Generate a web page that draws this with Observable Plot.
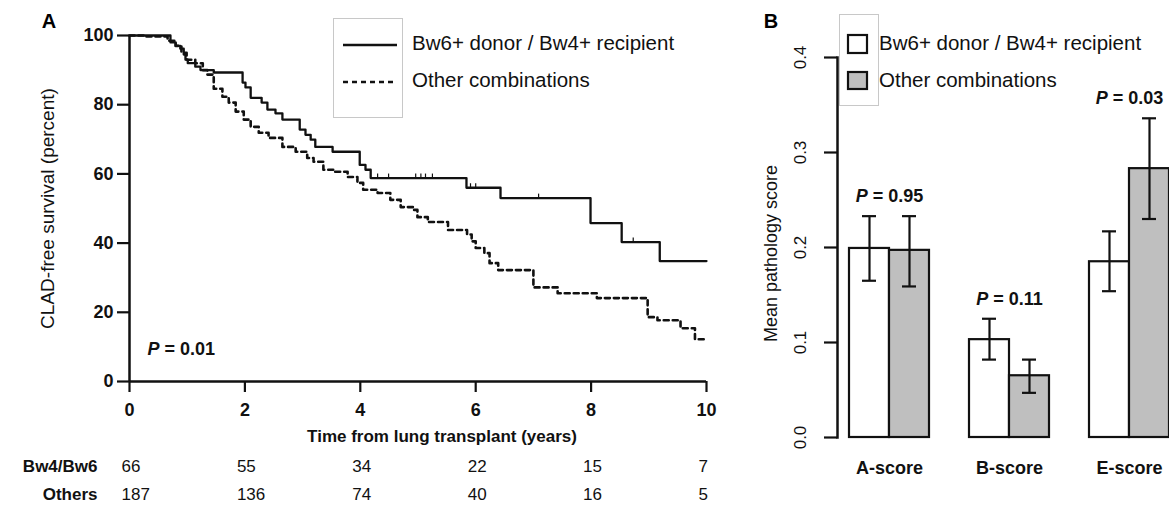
<!DOCTYPE html>
<html>
<head>
<meta charset="utf-8">
<script src="https://cdn.jsdelivr.net/npm/d3@7"></script>
<script src="https://cdn.jsdelivr.net/npm/@observablehq/plot@0.6"></script>
<style>
  html, body { margin: 0; padding: 0; background: #fff; }
  #wrap { position: relative; width: 1169px; height: 512px; overflow: hidden; font-family: "Liberation Sans", Arial, sans-serif; color: #000; }
  #panelA { position: absolute; left: 0; top: 0; }
  #panelB { position: absolute; left: 750px; top: 0; }
  #overlay { position: absolute; left: 0; top: 0; pointer-events: none; }
</style>
</head>
<body>
<div id="wrap">
  <div id="panelA"></div>
  <div id="panelB"></div>
  <svg id="overlay" width="1169" height="512"></svg>
</div>
<script>
// ---------- Panel A data (Kaplan-Meier) ----------
const groupNames = ["Bw6+ donor / Bw4+ recipient", "Other combinations"];
const xTicks = [0, 2, 4, 6, 8, 10];
const yTicks = [0, 20, 40, 60, 80, 100];

const solidTime = [0, 0.71, 0.80, 0.88, 0.94, 0.97, 1.01, 1.14, 1.23, 1.46, 1.96, 2.01, 2.10, 2.29, 2.39, 2.53, 2.65, 2.95, 3.05, 3.14, 3.22, 3.52, 3.99, 4.09, 4.18, 5.84, 6.43, 7.99, 8.53, 9.19, 10];
const solidSurv = [100, 98.0, 97.0, 96.2, 94.5, 93.0, 92.0, 91.0, 90.0, 89.3, 86.4, 85.0, 82.0, 80.6, 78.6, 77.5, 75.7, 72.8, 71.3, 69.9, 67.8, 66.4, 62.6, 61.2, 58.8, 56.0, 53.0, 45.8, 40.3, 34.8, 34.8];

const dashTime = [0, 0.28, 0.66, 0.80, 0.90, 0.99, 1.14, 1.27, 1.35, 1.46, 1.61, 1.72, 1.84, 1.98, 2.10, 2.24, 2.41, 2.65, 2.88, 3.08, 3.19, 3.36, 3.53, 3.78, 3.95, 4.05, 4.30, 4.52, 4.70, 4.92, 4.99, 5.17, 5.52, 5.85, 5.93, 6.00, 6.15, 6.24, 6.39, 7.00, 7.42, 8.10, 8.98, 9.15, 9.55, 9.80, 10];
const dashSurv = [100, 99.7, 98.5, 97.0, 95.0, 93.0, 92.0, 90.0, 88.7, 84.6, 82.3, 80.6, 78.0, 75.7, 73.6, 71.9, 70.4, 67.8, 66.4, 64.6, 63.5, 61.2, 60.6, 59.1, 57.4, 55.4, 54.5, 52.5, 50.4, 49.6, 47.5, 46.1, 43.8, 42.5, 40.5, 38.6, 37.1, 34.2, 32.2, 27.2, 25.5, 24.1, 18.6, 17.7, 15.4, 12.2, 12.2];

const censorTime = [4.30, 4.49, 4.96, 5.05, 5.13, 5.25, 5.91, 6.00, 7.09, 8.73];
const censorSurv = [58.8, 58.8, 58.8, 58.8, 58.8, 58.8, 56.0, 56.0, 53.0, 40.3];

const riskTimes = [0, 2, 4, 6, 8, 10];
const riskBw = [66, 55, 34, 22, 15, 7];
const riskOthers = [187, 136, 74, 40, 16, 5];
const riskLabels = ["Bw4/Bw6", "Others"];
const pValueA = "0.01";

// ---------- Panel B data (mean pathology score) ----------
const scores = ["A-score", "B-score", "E-score"];
const meanBw = [0.199, 0.103, 0.185];
const lowBw = [0.165, 0.082, 0.154];
const highBw = [0.233, 0.125, 0.217];
const meanOther = [0.197, 0.065, 0.283];
const lowOther = [0.159, 0.047, 0.230];
const highOther = [0.233, 0.082, 0.336];
const pValuesB = ["0.95", "0.11", "0.03"];
const yTicksB = [0.0, 0.1, 0.2, 0.3, 0.4];

// ---------- build tables ----------
const solidRows = solidTime.map((t, i) => ({t, s: solidSurv[i]}));
const dashRows = dashTime.map((t, i) => ({t, s: dashSurv[i]}));
const censorRows = censorTime.map((t, i) => ({t, s: censorSurv[i]}));
const riskRows1 = riskTimes.map((t, i) => ({t, n: riskBw[i]}));
const riskRows2 = riskTimes.map((t, i) => ({t, n: riskOthers[i]}));

const bwRows = scores.map((score, i) => ({score, mean: meanBw[i], low: lowBw[i], high: highBw[i]}));
const otherRows = scores.map((score, i) => ({score, mean: meanOther[i], low: lowOther[i], high: highOther[i]}));
const pRows = scores.map((score, i) => ({score, p: pValuesB[i], top: Math.max(highBw[i], highOther[i])}));

const FONT = '"Liberation Sans", Arial, sans-serif';
const INK = "#111";

// ---------- Panel A ----------
const plotA = Plot.plot({
  width: 750, height: 512,
  marginLeft: 129, marginRight: 44, marginTop: 35, marginBottom: 131,
  x: {domain: [0, 10]},
  y: {domain: [0, 100]},
  style: {fontFamily: FONT, fontSize: "17px", color: INK, background: "transparent", overflow: "visible"},
  marks: [
    Plot.axisY({ticks: yTicks, tickSize: 12, tickPadding: 4, fontSize: 18, fontWeight: "bold", label: null, strokeWidth: 2.2}),
    Plot.axisX({ticks: xTicks, tickSize: 11, tickPadding: 11, fontSize: 18, fontWeight: "bold", label: null, strokeWidth: 2.2}),
    Plot.ruleX([0], {strokeWidth: 2.5, stroke: INK}),
    Plot.ruleY([0], {strokeWidth: 2.5, stroke: INK}),
    Plot.line(dashRows, {x: "t", y: "s", curve: "step-after", stroke: INK, strokeWidth: 2.6, strokeDasharray: "5,4"}),
    Plot.line(solidRows, {x: "t", y: "s", curve: "step-after", stroke: INK, strokeWidth: 2.3}),
    Plot.ruleX(censorRows, {x: "t", y1: "s", y2: "s", insetTop: -4, stroke: INK, strokeWidth: 1.2}),
    Plot.text([`P = ${pValueA}`], {frameAnchor: "bottom-left", dx: 18, dy: -27, textAnchor: "start", fontSize: 18, fontWeight: "bold"}),
    Plot.text(["CLAD-free survival (percent)"], {frameAnchor: "left", dx: -82, rotate: -90, textAnchor: "middle", lineAnchor: "middle", fontSize: 19}),
    Plot.text(["Time from lung transplant (years)"], {frameAnchor: "bottom", dy: 60, dx: 24, fontSize: 17, fontWeight: "bold"}),
    Plot.text(riskRows1, {x: "t", text: "n", frameAnchor: "bottom", dy: 90, dx: -8, textAnchor: "start", fontSize: 17}),
    Plot.text(riskRows2, {x: "t", text: "n", frameAnchor: "bottom", dy: 118, dx: -8, textAnchor: "start", fontSize: 17}),
    Plot.text([riskLabels[0]], {frameAnchor: "bottom-left", dx: -32, dy: 90, textAnchor: "end", fontSize: 17, fontWeight: "bold"}),
    Plot.text([riskLabels[1]], {frameAnchor: "bottom-left", dx: -32, dy: 118, textAnchor: "end", fontSize: 17, fontWeight: "bold"})
  ]
});
document.getElementById("panelA").appendChild(plotA);

// ---------- Panel B ----------
const plotB = Plot.plot({
  width: 419, height: 512,
  marginLeft: 87, marginRight: 0, marginTop: 57, marginBottom: 75,
  x: {domain: scores, paddingInner: 1 / 3, paddingOuter: 0.05, align: 1, axis: null},
  y: {domain: [0, 0.4], axis: null},
  style: {fontFamily: FONT, fontSize: "17px", color: INK, background: "transparent", overflow: "visible"},
  marks: [
    Plot.axisY({ticks: yTicksB, tickSize: 13, tickFormat: () => "", label: null, strokeWidth: 2.2}),
    Plot.frame({anchor: "left", strokeWidth: 2.5, stroke: INK}),
    Plot.text(yTicksB, {y: d => d, text: d => d.toFixed(1), frameAnchor: "left", dx: -37, rotate: -90, textAnchor: "middle", lineAnchor: "middle", fontSize: 17}),
    Plot.text(["Mean pathology score"], {frameAnchor: "left", dx: -66, dy: 6, rotate: -90, textAnchor: "middle", lineAnchor: "middle", fontSize: 18}),
    Plot.barY(bwRows, {x: "score", y: "mean", insetRight: 40, fill: "white", stroke: INK, strokeWidth: 2.2}),
    Plot.barY(otherRows, {x: "score", y: "mean", insetLeft: 40, fill: "#bfbfbf", stroke: INK, strokeWidth: 2.2}),
    Plot.ruleX(bwRows, {x: "score", y1: "low", y2: "high", dx: -20, stroke: INK, strokeWidth: 2.2}),
    Plot.ruleX(otherRows, {x: "score", y1: "low", y2: "high", dx: 20, stroke: INK, strokeWidth: 2.2}),
    Plot.tickY(bwRows, {x: "score", y: "high", insetLeft: 13, insetRight: 53, stroke: INK, strokeWidth: 2.2}),
    Plot.tickY(bwRows, {x: "score", y: "low", insetLeft: 13, insetRight: 53, stroke: INK, strokeWidth: 2.2}),
    Plot.tickY(otherRows, {x: "score", y: "high", insetLeft: 53, insetRight: 13, stroke: INK, strokeWidth: 2.2}),
    Plot.tickY(otherRows, {x: "score", y: "low", insetLeft: 53, insetRight: 13, stroke: INK, strokeWidth: 2.2}),
    Plot.text(pRows, {x: "score", y: "top", text: d => `P = ${d.p}`, dy: -20, fontSize: 18, fontWeight: "bold"}),
    Plot.text(scores, {x: d => d, text: d => d, frameAnchor: "bottom", dy: 36, fontSize: 18, fontWeight: "bold"})
  ]
});
document.getElementById("panelB").appendChild(plotB);

// italic "P" in p-value labels
for (const svg of [plotA, plotB]) {
  d3.select(svg).selectAll("text").each(function () {
    const t = this.textContent;
    if (t.startsWith("P = ") && this.children.length === 0) {
      this.textContent = "";
      d3.select(this).append("tspan").attr("font-style", "italic").text("P");
      d3.select(this).append("tspan").text(t.slice(1));
    }
  });
}

// ---------- legends and panel letters ----------
const ov = d3.select("#overlay").style("font-family", FONT);
ov.append("text").attr("x", 49).attr("y", 28).attr("text-anchor", "middle").attr("font-size", 20).attr("font-weight", "bold").text("A");
ov.append("text").attr("x", 771).attr("y", 28).attr("text-anchor", "middle").attr("font-size", 20).attr("font-weight", "bold").text("B");

// legend A
ov.append("rect").attr("x", 333.5).attr("y", 18.5).attr("width", 69).attr("height", 99).attr("fill", "none").attr("stroke", "#c8c8c8");
ov.append("line").attr("x1", 343).attr("x2", 397).attr("y1", 45).attr("y2", 45).attr("stroke", INK).attr("stroke-width", 2.3);
ov.append("line").attr("x1", 343).attr("x2", 397).attr("y1", 82).attr("y2", 82).attr("stroke", INK).attr("stroke-width", 2.6).attr("stroke-dasharray", "5,4");
ov.append("text").attr("x", 412).attr("y", 50).attr("font-size", 20.5).attr("fill", INK).text(groupNames[0]);
ov.append("text").attr("x", 412).attr("y", 87).attr("font-size", 20.5).attr("fill", INK).text(groupNames[1]);

// legend B
ov.append("rect").attr("x", 839.5).attr("y", 14.5).attr("width", 39).attr("height", 91).attr("fill", "none").attr("stroke", "#c8c8c8");
ov.append("rect").attr("x", 848).attr("y", 35).attr("width", 19).attr("height", 18).attr("fill", "white").attr("stroke", INK).attr("stroke-width", 2.2);
ov.append("rect").attr("x", 848).attr("y", 72).attr("width", 19).attr("height", 17).attr("fill", "#bfbfbf").attr("stroke", INK).attr("stroke-width", 2.2);
ov.append("text").attr("x", 879).attr("y", 50).attr("font-size", 20.5).attr("fill", INK).text(groupNames[0]);
ov.append("text").attr("x", 879).attr("y", 87).attr("font-size", 20.5).attr("fill", INK).text(groupNames[1]);
</script>
</body>
</html>
